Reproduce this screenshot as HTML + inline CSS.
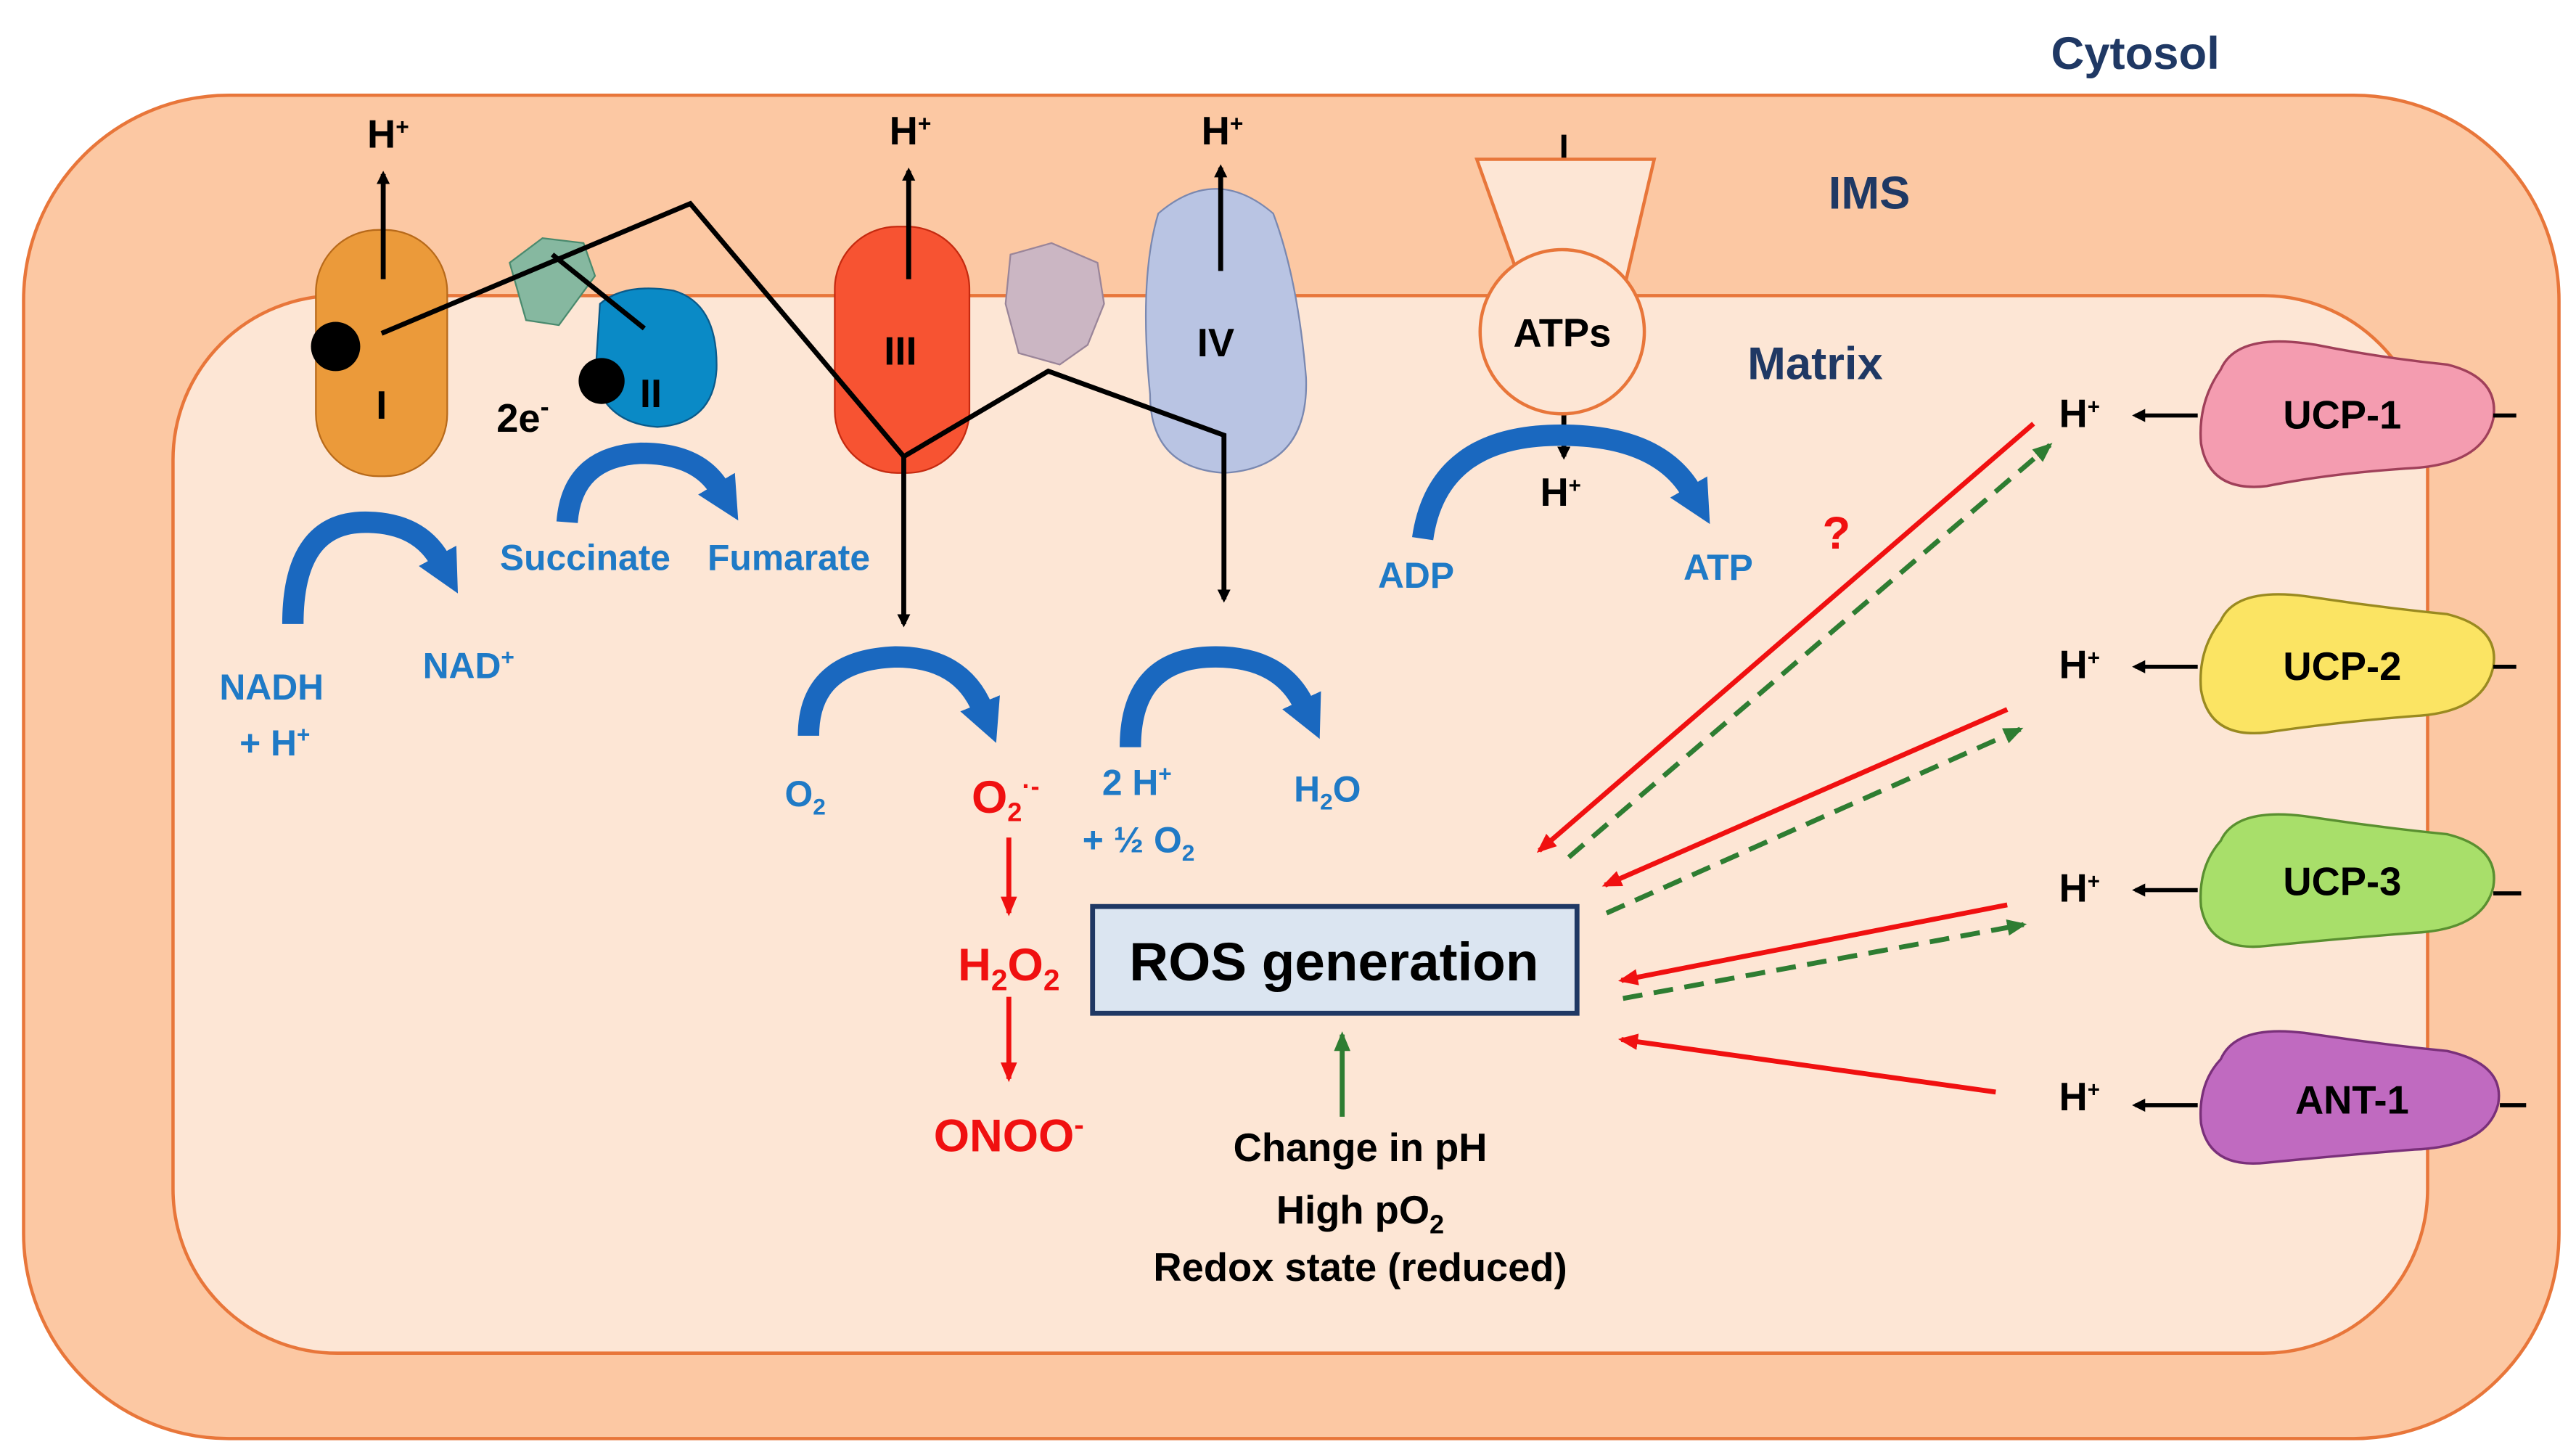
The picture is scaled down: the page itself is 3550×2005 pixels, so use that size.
<!DOCTYPE html>
<html><head><meta charset="utf-8"><style>
html,body{margin:0;padding:0;background:#fff}
svg{display:block}
text{font-family:"Liberation Sans",sans-serif;font-weight:bold;text-anchor:middle}
.b{fill:#1f7ac6;font-size:22px}
.n{fill:#1f3864;font-size:28px}
.k{fill:#000;font-size:24px}
.r{fill:#f01010;font-size:28px}
</style></head><body>
<svg width="3550" height="2005" viewBox="0 0 1568 886" xmlns="http://www.w3.org/2000/svg">
<defs>
<marker id="ak" markerWidth="8" markerHeight="8" refX="6" refY="4" orient="auto" markerUnits="userSpaceOnUse"><path d="M0,0 L8,4 L0,8z" fill="#000"/></marker>
<marker id="ar" markerWidth="12" markerHeight="10" refX="10" refY="5" orient="auto" markerUnits="userSpaceOnUse"><path d="M0,0 L12,5 L0,10z" fill="#f01010"/></marker>
<marker id="ag" markerWidth="12" markerHeight="10" refX="10" refY="5" orient="auto" markerUnits="userSpaceOnUse"><path d="M0,0 L12,5 L0,10z" fill="#2e7d32"/></marker>
<marker id="ab" markerWidth="30" markerHeight="26" refX="4" refY="13" orient="auto" markerUnits="userSpaceOnUse"><path d="M0,0 L26,13 L0,26z" fill="#1a68bf"/></marker>
</defs>
<rect x="14" y="58" width="1544" height="818" rx="125" fill="#fcc8a3" stroke="#e8763a" stroke-width="2"/>
<rect x="105" y="180" width="1373" height="644" rx="100" fill="#fde6d5" stroke="#e8763a" stroke-width="2"/>
<text class="n" x="1300" y="42">Cytosol</text>
<text class="n" x="1138" y="127">IMS</text>
<text class="n" x="1105" y="231">Matrix</text>

<rect x="192" y="140" width="80" height="150" rx="38" fill="#eb9a3a" stroke="#b86a1a"/>
<path d="M310,160 L330,145 L355,148 L362,168 L340,198 L320,195z" fill="#86b8a0" stroke="#4a8a6e"/>
<path d="M365,185 Q380,172 410,177 Q437,185 436,225 Q434,258 400,260 Q370,258 362,232z" fill="#0a8ac6" stroke="#0a5a8a"/>
<rect x="508" y="138" width="82" height="150" rx="38" fill="#f75332" stroke="#c52a10"/>
<path d="M615,155 L640,148 L668,160 L672,185 L662,210 L645,222 L620,215 L612,185z" fill="#cbb6c3" stroke="#9a8599"/>
<path d="M705,130 Q740,100 775,130 Q790,170 795,230 Q797,285 745,288 Q700,285 700,240 Q693,170 705,130z" fill="#b9c4e3" stroke="#7a88b0"/>
<text class="k" x="232" y="255" font-size="26">I</text>
<text class="k" x="396" y="248" font-size="24">II</text>
<text class="k" x="548" y="222" font-size="24">III</text>
<text class="k" x="740" y="217" font-size="26">IV</text>
<text class="k" x="318" y="263" font-size="26">2e<tspan dy="-10" font-size="16">-</tspan></text>
<circle cx="204" cy="211" r="15" fill="#000"/>
<circle cx="366" cy="232" r="14" fill="#000"/>
<g stroke="#000" stroke-width="3" fill="none">
<line x1="233" y1="170" x2="233" y2="106" marker-end="url(#ak)"/>
<line x1="553" y1="170" x2="553" y2="104" marker-end="url(#ak)"/>
<line x1="743" y1="165" x2="743" y2="102" marker-end="url(#ak)"/>
<polyline points="232,203 420,124 550,278 638,226 745,265 745,365" marker-end="url(#ak)"/>
<line x1="336" y1="155" x2="392" y2="200"/>
<line x1="550" y1="278" x2="550" y2="380" marker-end="url(#ak)"/>
<line x1="952" y1="82" x2="952" y2="97"/>
<line x1="952" y1="245" x2="952" y2="278" marker-end="url(#ak)"/>
</g>
<text class="k" x="236" y="90" font-size="22">H<tspan dy="-8" font-size="14">+</tspan></text>
<text class="k" x="554" y="88" font-size="22">H<tspan dy="-8" font-size="14">+</tspan></text>
<text class="k" x="744" y="88" font-size="22">H<tspan dy="-8" font-size="14">+</tspan></text>

<path d="M899,97 L1007,97 L990,170 L925,170z" fill="#fde6d5" stroke="#e8763a" stroke-width="2"/>
<circle cx="951" cy="202" r="50" fill="#fde6d5" stroke="#e8763a" stroke-width="2"/>
<text class="k" x="951" y="211" font-size="24">ATPs</text>
<text class="k" x="950" y="308" font-size="20">H<tspan dy="-8" font-size="13">+</tspan></text>

<g stroke="#1a68bf" stroke-width="13" fill="none">
<path d="M178,380 Q178,318 222,318 Q255,318 268,342" marker-end="url(#ab)"/>
<path d="M345,318 Q348,278 390,276 Q425,276 438,298" marker-end="url(#ab)"/>
<path d="M492,448 Q492,402 545,400 Q585,400 598,432" marker-end="url(#ab)"/>
<path d="M688,455 Q688,400 740,400 Q780,400 794,430" marker-end="url(#ab)"/>
<path d="M866,328 Q875,265 950,265 Q1010,265 1030,300" marker-end="url(#ab)"/>
</g>
<text class="b" x="165" y="426">NADH</text>
<text class="b" x="167" y="460">+ H<tspan dy="-8" font-size="14">+</tspan></text>
<text class="b" x="285" y="413">NAD<tspan dy="-8" font-size="14">+</tspan></text>
<text class="b" x="356" y="347">Succinate</text>
<text class="b" x="480" y="347">Fumarate</text>
<text class="b" x="490" y="491">O<tspan dy="5" font-size="14">2</tspan></text>
<text class="b" x="692" y="484">2 H<tspan dy="-8" font-size="14">+</tspan></text>
<text class="b" x="693" y="519">+ ½ O<tspan dy="5" font-size="14">2</tspan></text>
<text class="b" x="808" y="488">H<tspan dy="5" font-size="14">2</tspan><tspan dy="-5">O</tspan></text>
<text class="b" x="862" y="358">ADP</text>
<text class="b" x="1046" y="353">ATP</text>

<text class="r" x="612" y="495" font-size="26">O<tspan dy="5" font-size="16">2</tspan><tspan dy="-16" font-size="16">·-</tspan></text>
<g stroke="#f01010" stroke-width="3" fill="none">
<line x1="614" y1="510" x2="614" y2="556" marker-end="url(#ar)"/>
<line x1="614" y1="607" x2="614" y2="657" marker-end="url(#ar)"/>
<line x1="1238" y1="258" x2="937" y2="518" marker-end="url(#ar)"/>
<line x1="1222" y1="432" x2="977" y2="539" marker-end="url(#ar)"/>
<line x1="1222" y1="551" x2="987" y2="597" marker-end="url(#ar)"/>
<line x1="1215" y1="665" x2="987" y2="633" marker-end="url(#ar)"/>
</g>
<g stroke="#2e7d32" stroke-width="3" fill="none" stroke-dasharray="12,7">
<line x1="955" y1="522" x2="1248" y2="271" marker-end="url(#ag)"/>
<line x1="978" y1="556" x2="1230" y2="444" marker-end="url(#ag)"/>
<line x1="988" y1="608" x2="1232" y2="563" marker-end="url(#ag)"/>
</g>
<text class="r" x="614" y="597">H<tspan dy="6" font-size="18">2</tspan><tspan dy="-6">O</tspan><tspan dy="6" font-size="18">2</tspan></text>
<text class="r" x="614" y="701">ONOO<tspan dy="-10" font-size="18">-</tspan></text>
<text class="r" x="1118" y="334" font-size="42">?</text>
<rect x="665" y="552" width="295" height="65" fill="#dbe5f1" stroke="#1f3864" stroke-width="3"/>
<text x="812" y="597" font-size="33" fill="#000">ROS generation</text>
<line x1="817" y1="680" x2="817" y2="630" stroke="#2e7d32" stroke-width="3" marker-end="url(#ag)"/>
<text class="k" x="828" y="707">Change in pH</text>
<text class="k" x="828" y="745">High pO<tspan dy="6" font-size="16">2</tspan></text>
<text class="k" x="828" y="780">Redox state (reduced)</text>

<g stroke-width="1.5">
<path d="M1352,225 Q1362,202 1410,210 Q1450,218 1490,222 Q1522,230 1518,255 Q1512,282 1470,285 Q1420,288 1380,296 Q1345,300 1340,270 Q1338,245 1352,225z" fill="#f49cb0" stroke="#a0405a"/>
<path d="M1352,378 Q1362,356 1410,364 Q1450,370 1490,374 Q1522,382 1518,406 Q1512,434 1470,436 Q1420,440 1380,446 Q1345,450 1340,420 Q1338,396 1352,378z" fill="#fbe463" stroke="#9a8a20"/>
<path d="M1352,512 Q1362,490 1410,498 Q1450,504 1490,508 Q1522,516 1518,540 Q1512,566 1470,568 Q1420,572 1380,576 Q1345,580 1340,552 Q1338,528 1352,512z" fill="#a8df6a" stroke="#5a9030"/>
<path d="M1352,645 Q1362,622 1410,630 Q1450,636 1490,640 Q1525,648 1521,672 Q1515,698 1470,700 Q1420,704 1380,708 Q1345,712 1340,684 Q1338,660 1352,645z" fill="#c06ac0" stroke="#7a307a"/>
</g>
<text class="k" x="1426" y="261" font-size="25">UCP-1</text>
<text class="k" x="1426" y="414" font-size="25">UCP-2</text>
<text class="k" x="1426" y="545" font-size="25">UCP-3</text>
<text class="k" x="1432" y="678" font-size="25">ANT-1</text>
<g stroke="#000" stroke-width="2.5">
<line x1="1338" y1="253" x2="1300" y2="253" marker-end="url(#ak)"/>
<line x1="1338" y1="406" x2="1300" y2="406" marker-end="url(#ak)"/>
<line x1="1338" y1="542" x2="1300" y2="542" marker-end="url(#ak)"/>
<line x1="1338" y1="673" x2="1300" y2="673" marker-end="url(#ak)"/>
<line x1="1518" y1="253" x2="1532" y2="253"/>
<line x1="1518" y1="406" x2="1532" y2="406"/>
<line x1="1518" y1="544" x2="1535" y2="544"/>
<line x1="1522" y1="673" x2="1538" y2="673"/>
</g>
<text class="k" x="1266" y="260" font-size="20">H<tspan dy="-8" font-size="13">+</tspan></text>
<text class="k" x="1266" y="413" font-size="20">H<tspan dy="-8" font-size="13">+</tspan></text>
<text class="k" x="1266" y="549" font-size="20">H<tspan dy="-8" font-size="13">+</tspan></text>
<text class="k" x="1266" y="676" font-size="20">H<tspan dy="-8" font-size="13">+</tspan></text>
</svg>
</body></html>
